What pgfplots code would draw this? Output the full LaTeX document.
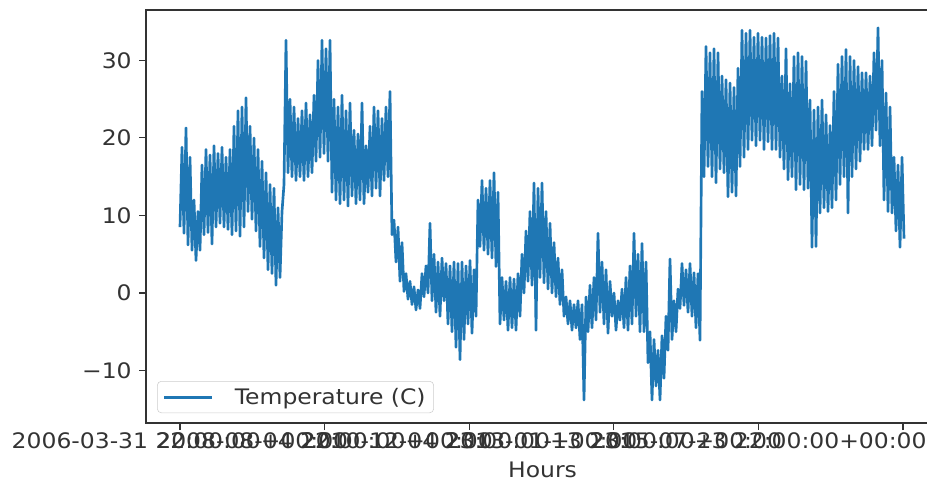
\documentclass[border=0pt]{standalone}
\usepackage{pgfplots}
\pgfplotsset{compat=1.18}
\usepackage{pgfplotstable}
\usepackage{fontspec}
\setmainfont{DejaVu Sans}[FakeStretch=1.1]
\definecolor{mplblue}{HTML}{1F77B4}

\pgfplotstableread[row sep=\\]{
y\\
8.5\\ 18.8\\ 7.7\\ 21.3\\ 6.2\\ 17.5\\ 5.5\\ 12\\ 4.2\\ 10.5\\
5.5\\ 16.5\\ 7.5\\ 18.5\\ 7.8\\ 17.8\\ 6.3\\ 19\\ 8.5\\ 18\\
9\\ 18.8\\ 8.5\\ 17.5\\ 8.2\\ 18.5\\ 7.5\\ 21.5\\ 8\\ 23.5\\
7.3\\ 24\\ 8.5\\ 25.2\\ 10.5\\ 21.5\\ 9.5\\ 20\\ 8\\ 18.5\\
6\\ 17\\ 4.5\\ 15.5\\ 3\\ 14\\ 2.5\\ 13.5\\ 1\\ 11\\
2\\ 10.5\\ 14\\ 32.6\\ 15.5\\ 25\\ 15\\ 24\\ 14.5\\ 22.5\\
15\\ 23.5\\ 14.5\\ 24.5\\ 15\\ 23\\ 15.5\\ 25.5\\ 17\\ 30\\
17.5\\ 32.6\\ 18\\ 31.5\\ 17\\ 32.6\\ 13\\ 25\\ 12\\ 24\\
11.5\\ 25.5\\ 12\\ 23.5\\ 11.2\\ 24.5\\ 12.5\\ 21\\ 11.5\\ 20.5\\
12\\ 24.5\\ 11.5\\ 19\\ 13\\ 21.5\\ 12.5\\ 24\\ 13.5\\ 23.5\\
12.5\\ 22.5\\ 14.5\\ 24\\ 15\\ 26\\ 7.5\\ 9.4\\ 4\\ 8.5\\
1.5\\ 6.5\\ 0.2\\ 2.5\\ -0.8\\ 1.5\\ -1.5\\ 0.8\\ -2.2\\ 0.4\\
-2\\ 2.5\\ -0.5\\ 3.5\\ 0\\ 9\\ -1\\ 5\\ -2.5\\ 4\\
-3\\ 4.5\\ -1\\ 3.8\\ -4\\ 3.5\\ -5\\ 4\\ -7\\ 3.8\\
-8.6\\ 4\\ -6\\ 3.5\\ -4\\ 4.2\\ -5.2\\ 3\\ -3\\ 12\\
6\\ 14.5\\ 5.5\\ 13.5\\ 5\\ 14.5\\ 4.5\\ 15.5\\ 3.4\\ 13\\
-4\\ 2\\ -3.5\\ 1.5\\ -4.8\\ 2\\ -4.5\\ 1.8\\ -4.8\\ 2.5\\
-3\\ 5\\ 0\\ 8\\ 1.5\\ 10.5\\ 1\\ 14.2\\ -4.8\\ 13.5\\
2\\ 14.2\\ 1.3\\ 10.5\\ 0.5\\ 9\\ 0\\ 6.5\\ -0.5\\ 4.5\\
-1.5\\ 3\\ -3\\ -0.5\\ -4\\ -1\\ -4.8\\ -1.5\\ -4.5\\ -1\\
-6\\ -1.5\\ -13.8\\ -0.5\\ -5\\ 1\\ -4.5\\ 2\\ -3.5\\ 7.7\\
-2.5\\ 4\\ -4\\ 3\\ -5.2\\ 1.5\\ -3\\ 0\\ -4.8\\ -1\\
-3.5\\ 0.5\\ -4.5\\ 2\\ -4.8\\ 3.5\\ -4\\ 7.7\\ -3\\ 5\\
-5\\ 6.4\\ -5\\ 4\\ -9\\ -5\\ -13.8\\ -6\\ -12\\ -7.4\\
-13.8\\ -5.5\\ -11\\ -3\\ -7.4\\ 4.4\\ -6\\ -1\\ -5\\ 0.5\\
-2\\ 3.8\\ -1.6\\ 3\\ -2.5\\ 3.8\\ -3\\ 2.6\\ -4.5\\ 2.5\\
-6.1\\ 26\\ 15\\ 31.8\\ 16.3\\ 31\\ 15\\ 31.5\\ 14.2\\ 31\\
16\\ 28\\ 15.5\\ 27.5\\ 12.4\\ 27.1\\ 13\\ 26.5\\ 12.5\\ 29\\
16.3\\ 33.9\\ 17.5\\ 33.5\\ 18.5\\ 33.9\\ 19.7\\ 33\\ 19\\ 33.5\\
19.7\\ 33\\ 18.5\\ 32.9\\ 19.5\\ 33.2\\ 18.5\\ 33.5\\ 18.5\\ 32.9\\
17.5\\ 28\\ 16\\ 31.5\\ 14.6\\ 27\\ 15\\ 30.5\\ 13.3\\ 31\\
14\\ 30.5\\ 13.3\\ 29.9\\ 13.5\\ 24.9\\ 5.9\\ 23.6\\ 6\\ 24\\
10.3\\ 24.9\\ 11\\ 23\\ 10.5\\ 21.6\\ 11\\ 26\\ 12\\ 29.5\\
14\\ 30.5\\ 15\\ 31.4\\ 10.3\\ 30.5\\ 15\\ 30\\ 16\\ 29.2\\
17\\ 28.4\\ 18.5\\ 28.4\\ 18.5\\ 28\\ 19\\ 31\\ 21\\ 34.2\\
19\\ 30\\ 12\\ 25.8\\ 10.5\\ 24\\ 10.3\\ 17.5\\ 8\\ 16.5\\
5.9\\ 17.5\\ 7\\
}\temps

\begin{document}
\begin{tikzpicture}[x=0.75pt,y=0.75pt]
\begin{axis}[
  at={(109.5pt,44.25pt)}, anchor=south west,
  scale only axis,
  width=594.75pt, height=309.75pt,
  xmin=-34, xmax=759,
  ymin=-16.77, ymax=36.5,
  axis line style={line width=0.8pt, black!80},
  tick style={line width=0.8pt, black!80},
  tick align=outside,
  major tick length=5.25pt,
  tick pos=left,
  xtick={0,144.6,289.2,433.8,578.4,723},
  xticklabels={{2006-03-31 22:00:00+00:00},{2008-08-04 22:00:00+00:00},{2010-12-04 23:00:00+00:00},{2013-01-13 23:00:00+00:00},{2015-07-23 22:00:00+00:00},{}},
  ytick={-10,0,10,20,30},
  yticklabels={−10,0,10,20,30},
  every tick label/.append style={font=\fontsize{16}{19}\selectfont, text=black!80},
  xticklabel style={yshift=1.5pt},
  yticklabel style={xshift=-2pt},
  xlabel={Hours},
  xlabel style={font=\fontsize{16}{19}\selectfont, text=black!80, at={(axis description cs:0.5,-0.114)}, anchor=center},
  legend style={at={(0.014,0.024)}, anchor=south west, draw=black!20, rounded corners=3pt, fill=white, text=black!80, font=\fontsize{16}{19}\selectfont, inner xsep=4pt, inner ysep=3pt},
  legend cell align=left,
  legend image code/.code={\draw[mplblue, line width=2.2pt] (0pt,0pt) -- (36pt,0pt); \path (50pt,0pt);},
]
\addplot[mplblue, line width=2pt, line join=round] table[x expr=\coordindex*2, y=y] {\temps};
\addlegendentry{Temperature (C)}
\end{axis}
\pgfresetboundingbox
\useasboundingbox (0,0) rectangle (927,482);
\end{tikzpicture}
\end{document}
